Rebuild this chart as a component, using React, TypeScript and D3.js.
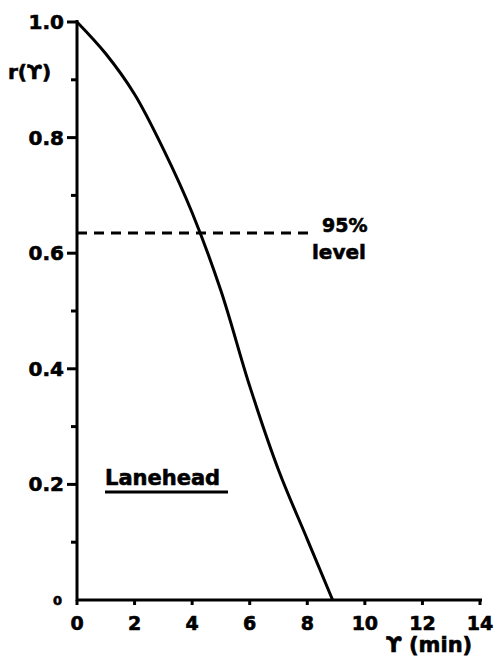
import React from "react";
import * as d3 from "d3";

const lagMin = [0, 1, 2, 3, 4, 5, 6, 7, 8, 8.88];
const corr = [1.0, 0.945, 0.875, 0.78, 0.67, 0.535, 0.37, 0.225, 0.105, 0];
const xTicks = [0, 2, 4, 6, 8, 10, 12, 14];
const yTicks = [0.2, 0.4, 0.6, 0.8, 1.0];
const yMinorTicks = [0.1, 0.3, 0.5, 0.7, 0.9];
const level95 = 0.635;

export default function App() {
  const x = d3.scaleLinear().domain([0, 14]).range([77, 480]);
  const y = d3.scaleLinear().domain([0, 1]).range([600, 22]);
  const line = d3
    .line<number>()
    .x((_, i) => x(lagMin[i]))
    .y((d) => y(d))
    .curve(d3.curveCatmullRom.alpha(0.5));
  const font = "'DejaVu Sans', sans-serif";
  const heavy = { stroke: "#000", strokeWidth: 0.6 };
  return (
    <svg
      width={502}
      height={659}
      style={{ position: "absolute", left: 0, top: 0, background: "#fff" }}
      fontFamily={font}
      fontWeight="bold"
    >
      {/* axes */}
      <line x1={x(0)} x2={x(0)} y1={y(0) + 1} y2={y(1) - 2} stroke="#000" strokeWidth={3} />
      <line x1={x(0) - 1} x2={x(14) + 2} y1={y(0)} y2={y(0)} stroke="#000" strokeWidth={3} />
      {xTicks.map((t) => (
        <g key={"xt" + t}>
          <line x1={x(t)} x2={x(t)} y1={y(0)} y2={y(0) + 5} stroke="#000" strokeWidth={3} />
          <text x={x(t)} y={630} textAnchor="middle" fontSize={19} {...heavy}>
            {t}
          </text>
        </g>
      ))}
      {yTicks.map((t) => (
        <g key={"yt" + t}>
          <line x1={x(0) - 10} x2={x(0)} y1={y(t)} y2={y(t)} stroke="#000" strokeWidth={3} />
          <text x={64} y={y(t) + 7} textAnchor="end" fontSize={20} {...heavy}>
            {t.toFixed(1)}
          </text>
        </g>
      ))}
      {yMinorTicks.map((t) => (
        <line key={"ym" + t} x1={x(0) - 6} x2={x(0)} y1={y(t)} y2={y(t)} stroke="#000" strokeWidth={3} />
      ))}
      <text x={62} y={y(0) + 5} textAnchor="end" fontSize={13} {...heavy}>
        0
      </text>
      {/* axis labels */}
      <text x={8} y={79} fontSize={20} {...heavy}>
        r(ϒ)
      </text>
      <text x={386} y={652} fontSize={21} {...heavy}>
        ϒ (min)
      </text>
      {/* 95% level */}
      <line
        x1={x(0)}
        x2={313}
        y1={y(level95)}
        y2={y(level95)}
        stroke="#000"
        strokeWidth={3}
        strokeDasharray="10 7"
      />
      <text x={322} y={232} fontSize={19} {...heavy}>
        95%
      </text>
      <text x={312} y={259} fontSize={20} {...heavy}>
        level
      </text>
      {/* curve */}
      <path d={line(corr) || ""} fill="none" stroke="#000" strokeWidth={3} />
      {/* site label */}
      <text x={105} y={485} fontSize={21} {...heavy}>
        Lanehead
      </text>
      <line x1={105} x2={228} y1={492} y2={492} stroke="#000" strokeWidth={3} />
    </svg>
  );
}
